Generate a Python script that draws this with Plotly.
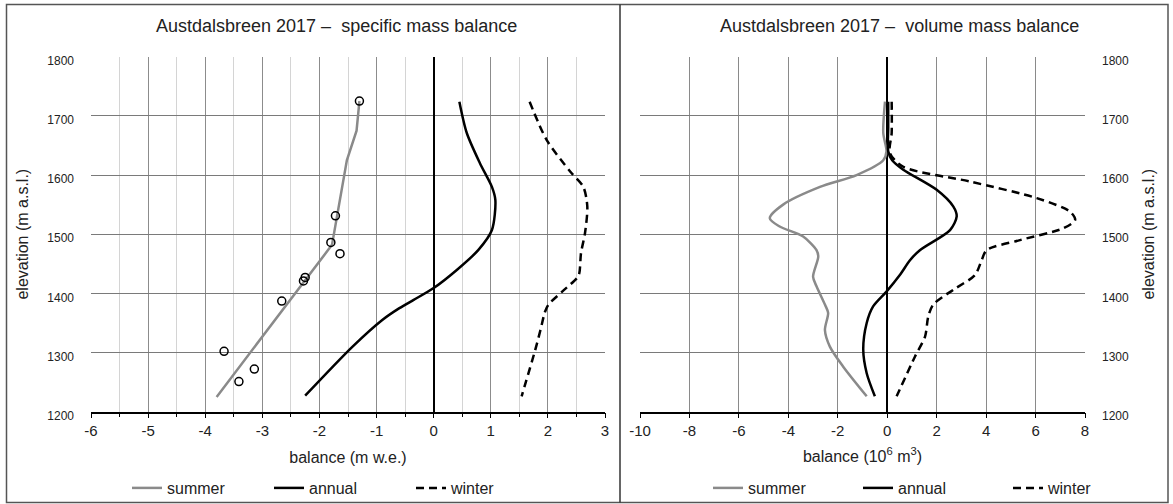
import plotly.graph_objects as go

# ---------------- data: specific mass balance (m w.e.) ----------------
summer_sp_elev = [1725, 1675, 1625, 1482, 1225]
summer_sp_val = [-1.30, -1.35, -1.52, -1.78, -3.80]

summer_obs_elev = [1725, 1531, 1486, 1467, 1427, 1421, 1387, 1302, 1272, 1251]
summer_obs_val = [-1.30, -1.72, -1.80, -1.64, -2.25, -2.28, -2.66, -3.67, -3.14, -3.41]

annual_sp_elev = [1724, 1671, 1620, 1580, 1558, 1507, 1473, 1440, 1409, 1389, 1375, 1355, 1310, 1227]
annual_sp_val = [0.45, 0.58, 0.81, 1.02, 1.08, 1.02, 0.78, 0.41, 0.00, -0.35, -0.60, -0.90, -1.42, -2.25]

winter_sp_elev = [1724, 1659, 1606, 1580, 1547, 1502, 1468, 1434, 1426, 1403, 1381, 1369, 1338, 1305, 1226]
winter_sp_val = [1.68, 1.98, 2.39, 2.62, 2.69, 2.65, 2.58, 2.55, 2.51, 2.25, 2.01, 1.95, 1.87, 1.78, 1.54]

# ---------------- data: volume mass balance (10^6 m^3) ----------------
summer_vol_elev = [1724, 1671, 1640, 1625, 1600, 1580, 1550, 1527, 1513, 1496, 1473, 1462, 1428,
                   1412, 1381, 1367, 1338, 1310, 1276, 1226]
summer_vol_val = [-0.09, -0.16, -0.03, -0.16, -1.24, -2.72, -4.21, -4.75, -4.35, -3.40, -2.86, -2.79, -3.00,
                  -2.86, -2.52, -2.39, -2.52, -2.32, -1.78, -0.83]

annual_vol_elev = [1724, 1680, 1640, 1625, 1609, 1575, 1547, 1530, 1507, 1473, 1456, 1431, 1403,
                   1378, 1350, 1305, 1265, 1226]
annual_vol_val = [0.04, 0.04, 0.04, 0.20, 0.65, 2.00, 2.67, 2.81, 2.54, 1.32, 0.92, 0.51, -0.03,
                  -0.57, -0.83, -0.97, -0.83, -0.50]

winter_vol_elev = [1724, 1671, 1637, 1614, 1589, 1561, 1538, 1524, 1510, 1490, 1473, 1456, 1431,
                   1406, 1381, 1361, 1327, 1293, 1226]
winter_vol_val = [0.18, 0.18, 0.11, 0.65, 3.35, 6.05, 7.40, 7.60, 7.12, 5.37, 4.02, 3.82, 3.55,
                  2.67, 1.86, 1.66, 1.53, 1.12, 0.38]

# ---------------- tick labels ----------------
left_x_ticks = [-6, -5, -4, -3, -2, -1, 0, 1, 2, 3]
left_x_labels = ["-6", "-5", "-4", "-3", "-2", "-1", "0", "1", "2", "3"]
right_x_ticks = [-10, -8, -6, -4, -2, 0, 2, 4, 6, 8]
right_x_labels = ["-10", "-8", "-6", "-4", "-2", "0", "2", "4", "6", "8"]
y_ticks = [1200, 1300, 1400, 1500, 1600, 1700, 1800]

left_title = "Austdalsbreen 2017 \u2013  specific mass balance"
right_title = "Austdalsbreen 2017 \u2013  volume mass balance"
series_names = ["summer", "annual", "winter"]

W, H = 1173, 504
GRAY = "#8a8a8a"
FONT = "Liberation Sans, Arial, sans-serif"


def px(x):
    return x / W


def py(y):
    return 1 - y / H


fig = go.Figure()

line_summer = dict(color=GRAY, width=2.5)
line_annual = dict(color="black", width=2.5)
line_winter = dict(color="black", width=2.5, dash="8px,5px")

# left panel
fig.add_trace(go.Scatter(x=summer_sp_val, y=summer_sp_elev, mode="lines", name=series_names[0],
                         line=line_summer, xaxis="x", yaxis="y", legend="legend"))
fig.add_trace(go.Scatter(x=annual_sp_val, y=annual_sp_elev, mode="lines", name=series_names[1],
                         line=dict(line_annual, shape="spline", smoothing=0.8), xaxis="x", yaxis="y", legend="legend"))
fig.add_trace(go.Scatter(x=winter_sp_val, y=winter_sp_elev, mode="lines", name=series_names[2],
                         line=dict(line_winter, shape="spline", smoothing=0.8), xaxis="x", yaxis="y", legend="legend"))
fig.add_trace(go.Scatter(x=summer_obs_val, y=summer_obs_elev, mode="markers", showlegend=False,
                         marker=dict(symbol="circle-open", size=8, color="black", line=dict(width=1.5)),
                         xaxis="x", yaxis="y"))

# right panel
fig.add_trace(go.Scatter(x=summer_vol_val, y=summer_vol_elev, mode="lines", name=series_names[0],
                         line=dict(line_summer, shape="spline", smoothing=0.8), xaxis="x2", yaxis="y2", legend="legend2"))
fig.add_trace(go.Scatter(x=annual_vol_val, y=annual_vol_elev, mode="lines", name=series_names[1],
                         line=dict(line_annual, shape="spline", smoothing=0.8), xaxis="x2", yaxis="y2", legend="legend2"))
fig.add_trace(go.Scatter(x=winter_vol_val, y=winter_vol_elev, mode="lines", name=series_names[2],
                         line=dict(line_winter, shape="spline", smoothing=0.8), xaxis="x2", yaxis="y2", legend="legend2"))

ydom = [py(411.7), py(56.7)]

common_x = dict(showline=True, linecolor="black", linewidth=1.5, ticks="outside", ticklen=5,
                tickwidth=1.2, tickcolor="black", zeroline=True, zerolinecolor="black", zerolinewidth=1.5,
                tickfont=dict(size=15, color="#222"), title_font=dict(size=16, color="#222"),
                gridwidth=1.3, fixedrange=True, automargin=False, tickmode="array")
common_y = dict(range=[1200, 1800], tickmode="array", tickvals=y_ticks, ticktext=[str(v) for v in y_ticks],
                showline=False, zeroline=False, gridcolor="#7a7a7a",
                gridwidth=1.3, tickfont=dict(size=12, color="#222"), title_font=dict(size=16, color="#222"),
                ticks="", ticklabelstandoff=16, ticklabelshift=4, fixedrange=True, automargin=False)

fig.update_layout(
    width=W, height=H,
    margin=dict(l=0, r=0, t=0, b=0, autoexpand=False),
    paper_bgcolor="white", plot_bgcolor="white",
    font=dict(family=FONT, color="#222"),
    xaxis=dict(common_x, domain=[px(91), px(605)], range=[-6, 3],
               tickvals=left_x_ticks, ticktext=left_x_labels, anchor="y",
               gridcolor="#8c8c8c",
               minor=dict(dtick=0.5, showgrid=True, gridcolor="#d4d4d4", gridwidth=1.2,
                          ticks="outside", ticklen=4, tickcolor="black"),
               title=dict(text="balance (m w.e.)", standoff=13)),
    yaxis=dict(common_y, domain=ydom, anchor="x", side="left",
               title=dict(text="elevation (m a.s.l.)", standoff=14)),
    xaxis2=dict(common_x, domain=[px(640), px(1085)], range=[-10, 8],
                tickvals=right_x_ticks, ticktext=right_x_labels, anchor="y2",
                gridcolor="#8a8a8a",
                title=dict(text="balance (10<sup>6</sup> m<sup>3</sup>)", standoff=12)),
    yaxis2=dict(common_y, domain=ydom, anchor="x2", side="right",
                title=dict(text="elevation (m a.s.l.)", standoff=14)),
    legend=dict(orientation="h", x=px(127), y=py(488), xanchor="left", yanchor="middle",
                font=dict(size=16), entrywidth=97, bgcolor="rgba(0,0,0,0)"),
    legend2=dict(orientation="h", x=px(708), y=py(488), xanchor="left", yanchor="middle",
                 font=dict(size=16), entrywidth=105, bgcolor="rgba(0,0,0,0)"),
    annotations=[
        dict(text=left_title, x=px(336), y=py(26), xref="paper", yref="paper", showarrow=False,
             font=dict(size=18, color="#222"), xanchor="center", yanchor="middle"),
        dict(text=right_title, x=px(899), y=py(26), xref="paper", yref="paper", showarrow=False,
             font=dict(size=18, color="#222"), xanchor="center", yanchor="middle"),
    ],
    shapes=[
        dict(type="rect", xref="paper", yref="paper", x0=px(6.5), x1=px(1168), y0=py(502.5), y1=py(4.5),
             line=dict(color="#555", width=1.5)),
        dict(type="line", xref="paper", yref="paper", x0=px(620), x1=px(620), y0=py(502.5), y1=py(4.5),
             line=dict(color="#333", width=1.5)),
    ],
)

fig.write_html("out.html")
